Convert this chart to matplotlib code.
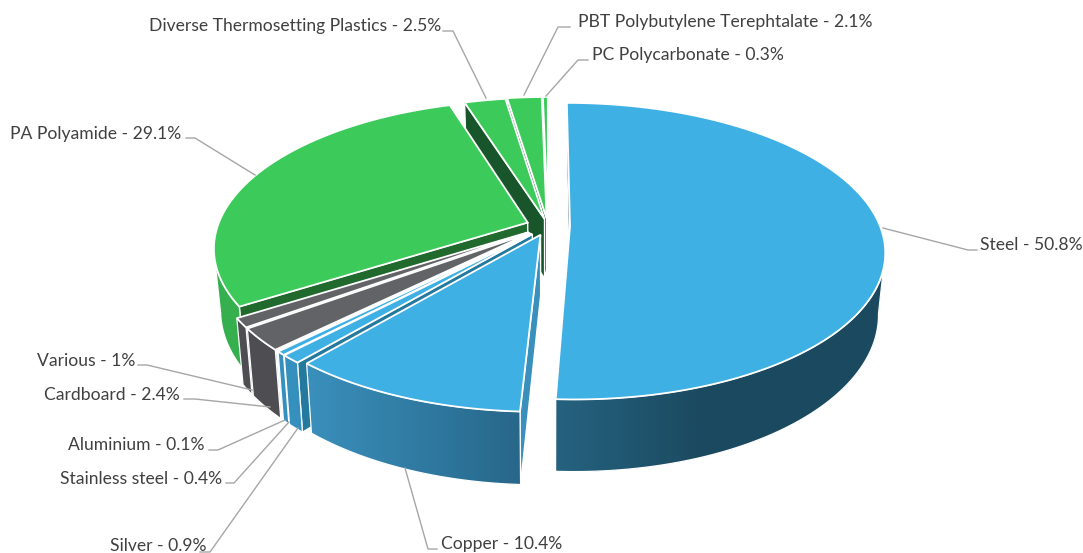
# 3D exploded pie of the material split, drawn by hand with a small perspective model
import numpy as np
import matplotlib
matplotlib.use('Agg')
import matplotlib.pyplot as plt
from matplotlib.patches import Polygon

materials = ['Steel', 'Copper', 'Silver', 'Stainless steel', 'Aluminium', 'Cardboard',
             'Various', 'PA Polyamide', 'Diverse Thermosetting Plastics',
             'PBT Polybutylene Terephtalate', 'PC Polycarbonate']
shares = [50.8, 10.4, 0.9, 0.4, 0.1, 2.4, 1, 29.1, 2.5, 2.1, 0.3]

# geometry in pixels
CX, CY = 548, 226
RX, RY, K = 310, 144, 0.168      # radii and perspective strength
DEPTH, SHRINK = 60, 0.98
explode = [0.071, 0.065, 0.075, 0.075, 0.075, 0.075, 0.075, 0.07, 0.05, 0.055, 0.055]

BLUE = '#3fb0e4'
GREEN = '#3ccb5a'
GRAY = '#626367'
top_col = [BLUE, BLUE, BLUE, BLUE, BLUE, GRAY, GRAY, GREEN, GREEN, GREEN, GREEN]
# side gradient: colour at the left and right end, then the x range it runs over
side_col = [('#25627f', '#1b4a60', 557, 700), ('#3a90bc', '#27678a', 305, 520),
            ('#3590bd', '#3590bd', 0, 1), ('#3590bd', '#3590bd', 0, 1), ('#3590bd', '#3590bd', 0, 1),
            ('#4e4e52', '#4e4e52', 0, 1), ('#4e4e52', '#4e4e52', 0, 1),
            ('#36b04e', '#36b04e', 0, 1), ('#36b04e', '#36b04e', 0, 1),
            ('#36b04e', '#36b04e', 0, 1), ('#36b04e', '#36b04e', 0, 1)]
# cut faces: wall on the start edge, wall on the end edge
wall_col = [('#1b4a60', '#1b4a60'), ('#3a90bd', '#247a9e'), ('#247a9e', '#247a9e'),
            ('#3590bd', '#247a9e'), ('#3590bd', '#247a9e'), ('#4e4e52', '#4e4e52'),
            ('#4e4e52', '#4e4e52'), ('#1f6a2c', '#1f6a2c'), ('#18552a', '#18552a'),
            ('#18552a', '#18552a'), ('#18552a', '#18552a')]

# label anchor and leader line points
label_xy = [(980, 245, 'left'), (441, 544, 'left'), (207, 546, 'right'), (222, 479, 'right'),
            (205, 445, 'right'), (180, 395, 'right'), (135, 361, 'right'), (181, 134, 'right'),
            (441, 26, 'right'), (578, 22, 'left'), (592, 55, 'left')]
leaders = [[(883, 228), (968, 250), (977, 250)], [(405, 468), (428, 549), (437, 549)],
           [(298, 428), (210, 552), (200, 552)], [(289, 422), (234, 483), (226, 483)],
           [(285, 420), (218, 450), (209, 450)], [(270, 407), (195, 399), (184, 399)],
           [(252, 390), (147, 365), (138, 365)], [(255, 175), (195, 138), (186, 138)],
           [(486, 98), (453, 31), (443, 31)], [(524, 95), (558, 27), (570, 27)],
           [(546, 96), (578, 60), (588, 60)]]


def hex2rgb(c):
    return np.array(matplotlib.colors.to_rgb(c))


def project(u, v, below=False):
    # true perspective: x and y both scale with distance from the viewer
    s = 1 / (1 - K * v)
    x, y = RX * u * s, RY * v * s
    if below:
        return CX + x * SHRINK, CY + y + DEPTH * s
    return CX + x, CY + y


def gradient_fill(ax, pts, c0, c1, x0, x1):
    pts = np.array(pts)
    xmin, xmax = pts[:, 0].min(), pts[:, 0].max()
    ymin, ymax = pts[:, 1].min(), pts[:, 1].max()
    f = np.clip((np.linspace(xmin, xmax, 512) - x0) / (x1 - x0), 0, 1)[None, :, None]
    img = hex2rgb(c0) * (1 - f) + hex2rgb(c1) * f
    # plain fill below keeps the polygon edge smooth
    ax.add_patch(Polygon(pts, closed=True, fc=img[0, 256], ec='none', zorder=2))
    im = ax.imshow(img, extent=(xmin, xmax, ymax, ymin), aspect='auto', zorder=2,
                   interpolation='bilinear')
    im.set_clip_path(Polygon(pts, closed=True, transform=ax.transData))
    ax.add_patch(Polygon(pts, closed=True, fc='none', ec='white', lw=0.9, zorder=2))


fig = plt.figure(figsize=(10.83, 5.53), dpi=100)
ax = fig.add_axes([0, 0, 1, 1])

edges = np.concatenate([[0], np.cumsum(shares)]) / sum(shares) * 360
mids = (edges[:-1] + edges[1:]) / 2
order = np.argsort(-np.cos(np.radians(mids)))

for i in order:
    a0, a1 = edges[i], edges[i + 1]
    ou = explode[i] * np.sin(np.radians(mids[i]))
    ov = -explode[i] * np.cos(np.radians(mids[i]))
    ang = np.linspace(a0, a1, max(3, int((a1 - a0) * 2)))
    u, v = ou + np.sin(np.radians(ang)), ov - np.cos(np.radians(ang))
    tx, ty = project(u, v)
    bx, by = project(u, v, below=True)
    apex_top = project(ou, ov)
    apex_low = project(ou, ov, below=True)

    # cut faces, only the ones turned towards the viewer
    for a_e, sign, col in zip((a0, a1), (-1, 1), wall_col[i]):
        t = np.radians(a_e)
        nu, nv = sign * np.cos(t), sign * np.sin(t)
        if nu * (0 - ou) + nv * (1 / K - ov) <= 0:
            continue
        eu, ev = ou + np.sin(t), ov - np.cos(t)
        ax.add_patch(Polygon([apex_top, project(eu, ev), project(eu, ev, below=True), apex_low],
                             closed=True, fc=col, ec='white', lw=1.0, zorder=2))

    # outer wall, the back of the rim stays hidden
    vis = v > K
    if vis.sum() >= 2:
        pts = list(zip(tx[vis], ty[vis])) + list(zip(bx[vis][::-1], by[vis][::-1]))
        gradient_fill(ax, pts, *side_col[i])

    # top face
    ax.add_patch(Polygon([apex_top] + list(zip(tx, ty)), closed=True, fc=top_col[i],
                         ec='white', lw=1.3, zorder=2, joinstyle='miter'))

for name, val, (lx, ly, ha), line in zip(materials, shares, label_xy, leaders):
    xs, ys = zip(*line)
    ax.plot(xs, ys, color='#a6a6a6', lw=1.0, zorder=3)
    ax.text(lx, ly, f'{name} - {val}%', ha=ha, va='center', fontsize=12.6,
            family='Lato', color='#404040', zorder=4)

ax.set_xlim(0, 1083)
ax.set_ylim(553, 0)
ax.axis('off')
fig.savefig('out.png', dpi=100, facecolor='white')
